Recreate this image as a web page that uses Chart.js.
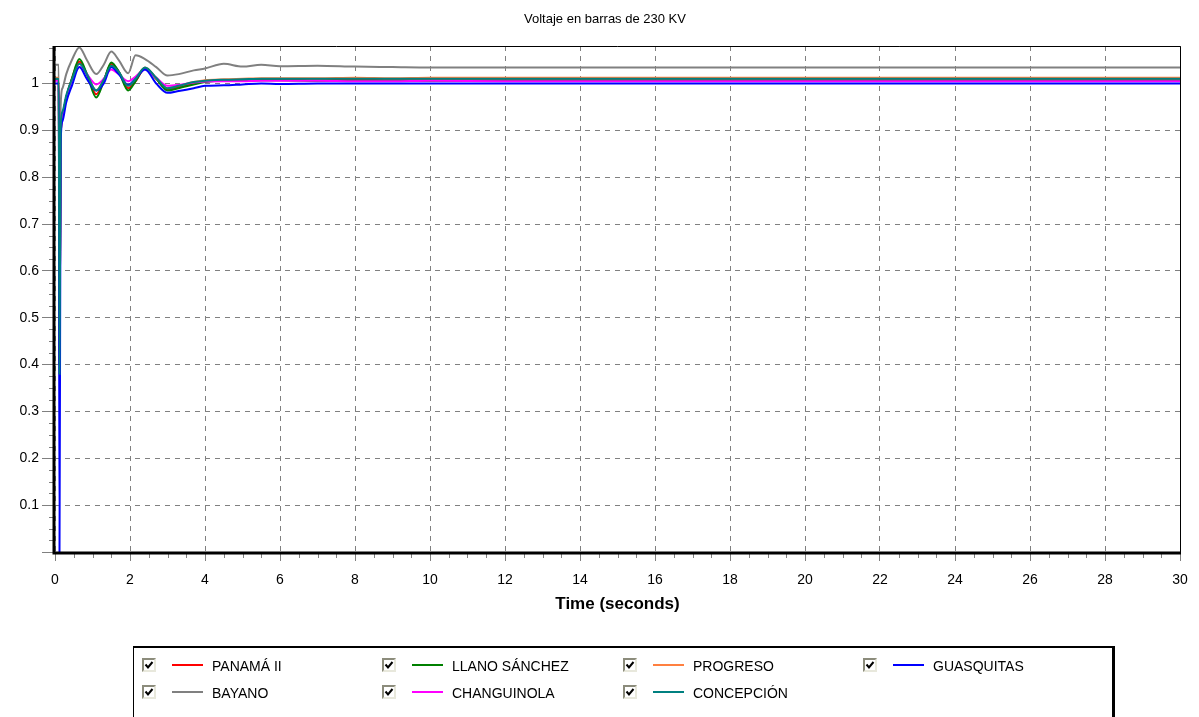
<!DOCTYPE html>
<html>
<head>
<meta charset="utf-8">
<script src="https://cdn.jsdelivr.net/npm/chart.js@4/dist/chart.umd.min.js"></script>
<style>
  body { margin: 0; background: #fff; font-family: 'Liberation Sans', Arial, sans-serif; }
  #wrap { position: relative; width: 1199px; height: 717px; overflow: hidden; }
  #titulo { position: absolute; left: 0; top: 11px; width: 1210px; text-align: center; font-size: 13px; color: #000; }
  #leyenda { position: absolute; left: 133px; top: 646px; width: 978px; height: 100px;
             border: 1px solid #000; border-top-width: 2px; border-right-width: 3px; }
  .item { position: absolute; font-size: 14px; color: #000; height: 16px; line-height: 16px; white-space: nowrap; }
  .caja { position: absolute; left: 0; top: 0; width: 10px; height: 10px; background: #fff;
          border: 2px solid #8c8c7c; border-right-color: #e8e8dc; border-bottom-color: #e8e8dc; }
  .linea { position: absolute; left: 30px; top: 6px; width: 31px; height: 2px; }
  .texto { position: absolute; left: 70px; top: 0; }
</style>
</head>
<body>
<div id="wrap">
  <canvas id="grafico" width="1199" height="717"></canvas>
  <div id="titulo">Voltaje en barras de 230 KV</div>
  <div id="leyenda"></div>
</div>
<script>
// Tiempo (s) y voltajes (p.u.)
const tiempo = [0, 0.1, 0.12, 0.15, 0.2, 0.3, 0.45, 0.65, 0.85, 1.1, 1.3, 1.5, 1.7, 1.95, 2.15, 2.4, 2.7, 3.0, 3.3, 3.7, 4.0, 4.5, 5.0, 5.5, 6.0, 7.0, 8.0, 9.0, 10, 12, 14, 18, 22, 26, 30];

const panama2 = [1.008, 1.008, 0.4, 0.88, 0.93, 0.97, 1.01, 1.047, 1.02, 0.977, 1.005, 1.042, 1.025, 0.99, 1.005, 1.032, 1.01, 0.988, 0.992, 1.0, 1.004, 1.007, 1.007, 1.008, 1.008, 1.007, 1.008, 1.007, 1.007, 1.007, 1.007, 1.007, 1.007, 1.007, 1.007];
const llanoSanchez = [1.008, 1.008, 0.4, 0.88, 0.93, 0.97, 1.01, 1.052, 1.02, 0.97, 1.005, 1.045, 1.025, 0.985, 1.005, 1.033, 1.01, 0.985, 0.99, 0.998, 1.003, 1.006, 1.006, 1.007, 1.007, 1.006, 1.006, 1.006, 1.006, 1.006, 1.006, 1.006, 1.006, 1.006, 1.006];
const progreso = [1.012, 1.012, 0.4, 0.88, 0.93, 0.97, 1.008, 1.043, 1.02, 0.985, 1.008, 1.04, 1.025, 0.995, 1.01, 1.034, 1.012, 0.99, 0.995, 1.003, 1.007, 1.009, 1.01, 1.011, 1.011, 1.011, 1.012, 1.011, 1.012, 1.012, 1.012, 1.012, 1.012, 1.012, 1.012];
const guasquitas = [1.0, 1.0, 0.0, 0.87, 0.92, 0.96, 0.995, 1.035, 1.01, 0.985, 1.0, 1.035, 1.02, 0.997, 1.01, 1.03, 1.0, 0.98, 0.984, 0.99, 0.995, 0.996, 0.998, 1.0, 0.999, 1.0, 1.0, 1.0, 1.0, 1.0, 1.0, 1.0, 1.0, 1.0, 1.0];
const bayano = [1.04, 1.04, 0.4, 0.95, 0.99, 1.02, 1.05, 1.077, 1.05, 1.02, 1.04, 1.068, 1.05, 1.022, 1.06, 1.052, 1.035, 1.017, 1.02, 1.028, 1.032, 1.042, 1.036, 1.04, 1.037, 1.038, 1.036, 1.035, 1.034, 1.034, 1.034, 1.034, 1.034, 1.034, 1.034];
const changuinola = [1.006, 1.006, 0.4, 0.88, 0.93, 0.97, 1.005, 1.035, 1.02, 0.998, 1.01, 1.03, 1.02, 1.005, 1.015, 1.03, 1.012, 0.995, 0.997, 1.002, 1.004, 1.005, 1.005, 1.006, 1.006, 1.006, 1.005, 1.005, 1.006, 1.005, 1.005, 1.005, 1.005, 1.005, 1.005];
const concepcion = [1.01, 1.01, 0.38, 0.9, 0.94, 0.975, 1.008, 1.042, 1.02, 0.985, 1.008, 1.038, 1.025, 0.995, 1.01, 1.034, 1.012, 0.99, 0.995, 1.003, 1.006, 1.008, 1.009, 1.01, 1.01, 1.01, 1.01, 1.01, 1.01, 1.01, 1.01, 1.01, 1.01, 1.01, 1.01];

const ticksX = [0, 2, 4, 6, 8, 10, 12, 14, 16, 18, 20, 22, 24, 26, 28, 30];
const ticksY = [0, 0.1, 0.2, 0.3, 0.4, 0.5, 0.6, 0.7, 0.8, 0.9, 1];

// Series en el orden de la leyenda (fila por fila)
const series = [
    { nombre: 'PANAMÁ II', datos: panama2, color: '#ff0000', orden: 4 },
    { nombre: 'LLANO SÁNCHEZ', datos: llanoSanchez, color: '#008000', orden: 3 },
    { nombre: 'PROGRESO', datos: progreso, color: '#ff8040', orden: 5 },
    { nombre: 'GUASQUITAS', datos: guasquitas, color: '#0000ff', orden: 1 },
    { nombre: 'BAYANO', datos: bayano, color: '#808080', orden: 6 },
    { nombre: 'CHANGUINOLA', datos: changuinola, color: '#ff00ff', orden: 2 },
    { nombre: 'CONCEPCIÓN', datos: concepcion, color: '#008080', orden: 0 }
];

// Marcas menores y marco del área de trazado
const marcoPlugin = {
    id: 'marco',
    afterDraw(chart) {
        const ctx = chart.ctx;
        const a = chart.chartArea;
        const sx = chart.scales.x, sy = chart.scales.y;
        ctx.save();
        ctx.strokeStyle = '#808080';
        ctx.lineWidth = 1;
        ctx.beginPath();
        for (let v = 0.5; v < 30; v += 0.5) {
            if (v % 2 === 0) continue;
            const px = Math.round(sx.getPixelForValue(v)) + 0.5;
            ctx.moveTo(px, a.bottom);
            ctx.lineTo(px, a.bottom + 6);
        }
        for (let i = 1; i * 0.025 < 1.08; i++) {
            if (i % 4 === 0) continue;
            const py = Math.round(sy.getPixelForValue(i * 0.025)) + 0.5;
            ctx.moveTo(a.left - 6, py);
            ctx.lineTo(a.left, py);
        }
        ctx.stroke();
        ctx.strokeStyle = '#000';
        ctx.lineWidth = 1;
        ctx.beginPath();
        ctx.moveTo(a.left, a.top + 0.5);
        ctx.lineTo(a.right + 0.5, a.top + 0.5);
        ctx.lineTo(a.right + 0.5, a.bottom);
        ctx.stroke();
        ctx.lineWidth = 3;
        ctx.beginPath();
        ctx.moveTo(a.left - 1, a.top);
        ctx.lineTo(a.left - 1, a.bottom + 1);
        ctx.lineTo(a.right + 1, a.bottom + 1);
        ctx.stroke();
        ctx.restore();
    }
};

const fuenteEjes = { family: "'Liberation Sans', Arial, sans-serif", size: 14 };

new Chart(document.getElementById('grafico'), {
    type: 'line',
    data: {
        labels: tiempo,
        datasets: series.map(s => ({
            label: s.nombre,
            data: tiempo.map((t, i) => ({ x: t, y: s.datos[i] })),
            borderColor: s.color,
            backgroundColor: s.color,
            borderWidth: 2,
            pointRadius: 0,
            cubicInterpolationMode: 'monotone',
            order: s.orden
        }))
    },
    options: {
        responsive: false,
        animation: false,
        layout: { padding: { top: 46, right: 19, bottom: 102, left: 0 } },
        plugins: {
            legend: { display: false },
            title: { display: false },
            tooltip: { enabled: false }
        },
        scales: {
            x: {
                type: 'linear',
                min: 0,
                max: 30,
                afterBuildTicks(scale) { scale.ticks = ticksX.map(v => ({ value: v })); },
                afterFit(scale) { scale.height = 63; },
                ticks: { color: '#000', font: fuenteEjes, padding: 11, maxRotation: 0 },
                grid: { color: '#808080', tickLength: 9, tickColor: '#808080' },
                border: { display: false, dash: [5, 5] },
                title: {
                    display: true,
                    text: 'Time (seconds)',
                    color: '#000',
                    font: { family: "'Liberation Sans', Arial, sans-serif", size: 17, weight: 'bold' },
                    padding: { top: 0, bottom: 0 }
                }
            },
            y: {
                type: 'linear',
                min: 0,
                max: 1.08,
                afterBuildTicks(scale) { scale.ticks = ticksY.map(v => ({ value: v })); },
                afterFit(scale) { scale.width = 55; },
                ticks: {
                    color: '#000',
                    font: fuenteEjes,
                    padding: 3,
                    callback: v => (v === 0 ? '' : String(Math.round(v * 10) / 10))
                },
                grid: { color: '#808080', tickLength: 13, tickColor: '#808080' },
                border: { display: false, dash: [5, 5] }
            }
        }
    },
    plugins: [marcoPlugin]
});

// Leyenda con casillas marcadas, 4 columnas
const leyenda = document.getElementById('leyenda');
const colX = [8, 248, 489, 729];
const filaY = [10, 37];
series.forEach((s, i) => {
    const item = document.createElement('div');
    item.className = 'item';
    item.style.left = colX[i % 4] + 'px';
    item.style.top = filaY[Math.floor(i / 4)] + 'px';
    item.style.width = '230px';
    item.innerHTML =
        '<span class="caja"><svg width="10" height="10" style="position:absolute;left:0;top:0">' +
        '<polyline points="1.5,4.5 4,7.5 8.5,2" fill="none" stroke="#000" stroke-width="2"/></svg></span>' +
        '<span class="linea" style="background-color:' + s.color + '"></span>' +
        '<span class="texto">' + s.nombre + '</span>';
    leyenda.appendChild(item);
});
</script>
</body>
</html>
